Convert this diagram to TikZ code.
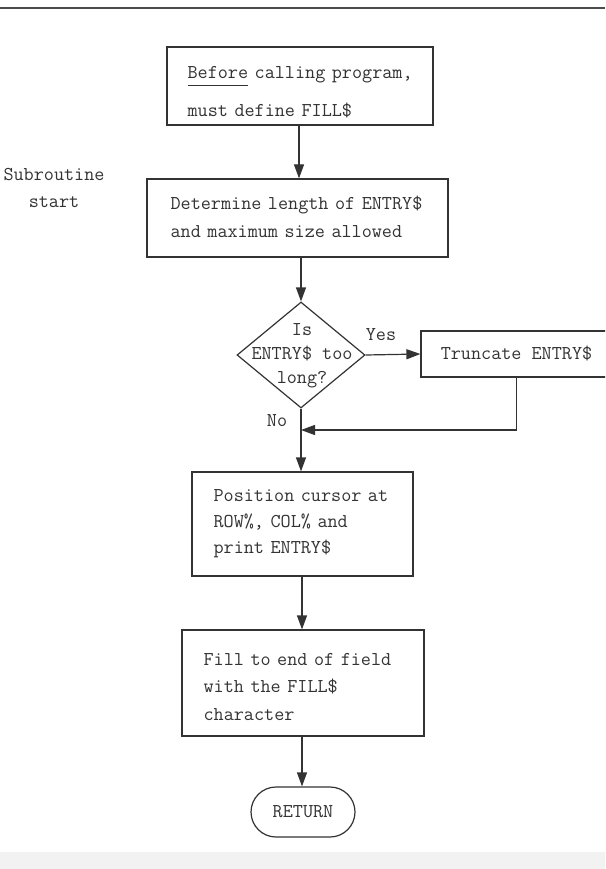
\documentclass[tikz,border=0pt]{standalone}
\usepackage{fontspec}
\usetikzlibrary{shapes.geometric,arrows.meta}
\definecolor{ink}{HTML}{333333}
\definecolor{txt}{HTML}{333333}
\begin{document}
\begin{tikzpicture}[x=1pt,y=-1pt,
  line width=1.2pt,
  every node/.style={inner sep=0pt, text=txt},
  mono/.style={font=\ttfamily\fontsize{19.6}{#1}\selectfont},
  mono/.default=26,
  boxnode/.style={draw=ink, rectangle, line width=1.2pt},
  lbl/.style={mono, anchor=base west, align=left, text width=#1},
  conn/.style={draw=ink, line width=1.2pt, -{Triangle[length=14pt,width=10pt]}},
  plain/.style={draw=ink, line width=1.2pt}]
\clip (0,0) rectangle (605,869);
\fill[white] (0,0) rectangle (605,869);
\fill[black!5] (0,852) rectangle (605,869);
% top rule
\draw[black!70, line width=2pt] (0,8.5) -- (605,8.5);

% box 1
\node[boxnode, minimum width=266pt, minimum height=78pt] (b1) at (300,86) {};
\node[lbl=240pt, mono=38] (t1) at (187,79) {\underline{Before\vphantom{g}} calling program,\\must define FILL\$};

% side label (base anchor = last line)
\node[mono=27, align=center, anchor=base] (sub) at (54,207) {Subroutine\\start};

% box 2
\node[boxnode, minimum width=301pt, minimum height=78pt] (b2) at (297.5,218) {};
\node[lbl=280pt, mono=28] (t2) at (170,209) {Determine length of ENTRY\$\\and maximum size allowed};

% decision
\node[draw=ink, diamond, minimum width=128pt, minimum height=106pt, inner sep=0pt] (d) at (301,355) {};
\node[mono=24, align=center, anchor=base] (td) at (302,383) {Is\\ENTRY\$ too\\long?};
\node[mono, anchor=base] (yes) at (381,340) {Yes};
\node[mono, anchor=base] (no) at (277,426) {No};

% truncate box
\node[boxnode, minimum width=191pt, minimum height=46pt] (tr) at (516.5,354) {};
\node[mono, anchor=base] (ttr) at (516.5,359) {Truncate ENTRY\$};

% box 3
\node[boxnode, minimum width=221pt, minimum height=104pt] (b3) at (302.5,524) {};
\node[lbl=200pt, mono=26] (t3) at (213,501) {Position cursor at\\ROW\%, COL\% and\\print ENTRY\$};

% box 4
\node[boxnode, minimum width=242pt, minimum height=106pt] (b4) at (303,683) {};
\node[lbl=220pt, mono=27.5] (t4) at (203,665) {Fill to end of field\\with the FILL\$\\character};

% return
\node[draw=ink, rectangle, rounded corners=25pt, minimum width=104pt, minimum height=50pt, mono] (ret) at (303,812) {RETURN};

% merge point
\coordinate (m) at (301,430);
\coordinate (trc) at (tr.south |- m);

% connectors
\draw[conn] (b1.south -| 299,0) -- (b2.north -| 299,0);
\draw[conn] (b2.south -| d.north) -- (d.north);
\draw[conn] (d.east) -- (tr.west);
\draw[conn] (d.south) -- (b3.north -| d.south);
\draw[plain] (tr.south) -- (trc);
\draw[conn] (trc) -- (m);
\draw[conn] (b3.south -| 302,0) -- (b4.north -| 302,0);
\draw[conn] (b4.south -| 302,0) -- (ret.north -| 302,0);
\end{tikzpicture}
\end{document}
